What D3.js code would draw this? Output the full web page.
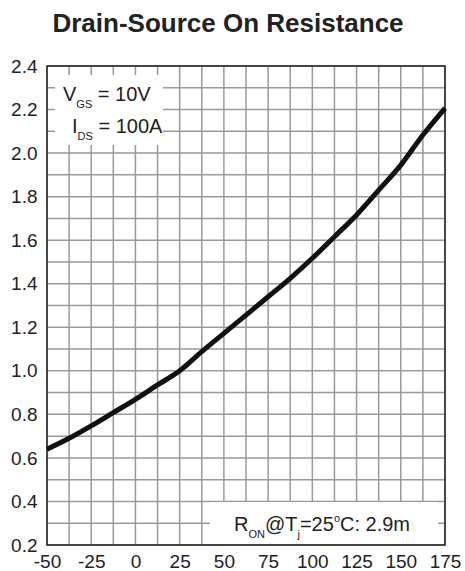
<!DOCTYPE html>
<html><head><meta charset="utf-8">
<script src="https://cdn.jsdelivr.net/npm/d3@7"></script>
<style>body{margin:0;background:#fff}svg{display:block;font-family:"Liberation Sans",Arial,sans-serif}</style>
</head><body><svg id="c" width="465" height="571"></svg>
<script>
const temps = [-50,-37.5,-25,-12.5,0,12.5,25,37.5,50,62.5,75,87.5,100,112.5,125,137.5,150,162.5,175];
const rNorm = [0.64,0.69,0.747,0.808,0.869,0.935,1.0,1.088,1.172,1.256,1.34,1.425,1.517,1.616,1.716,1.83,1.945,2.083,2.206];
const xTickLabels = [-50,-25,0,25,50,75,100,125,150,175];
const yTickLabels = [0.2,0.4,0.6,0.8,1.0,1.2,1.4,1.6,1.8,2.0,2.2,2.4];
const xGrid = d3.range(-50,175.1,12.5);
const yGrid = d3.range(0.2,2.41,0.1);

const svg = d3.select("#c");
const L=47,R=445,T=66,B=545;
const x = d3.scaleLinear().domain([-50,175]).range([L,R]);
const y = d3.scaleLinear().domain([0.2,2.4]).range([B,T]);

svg.append("text").attr("x",228).attr("y",32).attr("text-anchor","middle")
  .attr("font-size",26).attr("font-weight","bold").attr("fill","#222").text("Drain-Source On Resistance");

const g = svg.append("g");
g.selectAll(".vg").data(xGrid).join("line").attr("x1",d=>x(d)).attr("x2",d=>x(d)).attr("y1",T).attr("y2",B)
  .attr("stroke","#999").attr("stroke-width",1.5);
g.selectAll(".hg").data(yGrid).join("line").attr("y1",d=>y(d)).attr("y2",d=>y(d)).attr("x1",L).attr("x2",R)
  .attr("stroke","#999").attr("stroke-width",1.5);

// annotation boxes (white backgrounds)
g.append("rect").attr("x",55).attr("y",75).attr("width",108).attr("height",70).attr("fill","#fff");
g.append("rect").attr("x",210).attr("y",502).attr("width",228).attr("height",42).attr("fill","#fff");

// frame
g.append("rect").attr("x",L).attr("y",T).attr("width",R-L).attr("height",B-T).attr("fill","none")
  .attr("stroke","#222").attr("stroke-width",1.5);

// axes labels
const xAxis = d3.axisBottom(x).tickValues(xTickLabels).tickSize(0).tickPadding(9.5).tickFormat(d=>String(d));
const ax = svg.append("g").attr("transform",`translate(0,${B})`).call(xAxis);
ax.select(".domain").remove();
ax.selectAll("text").attr("font-size",19).attr("fill","#222").attr("font-family","Liberation Sans, Arial, sans-serif");
const yAxis = d3.axisLeft(y).tickValues(yTickLabels).tickSize(0).tickPadding(9.5).tickFormat(d=>d.toFixed(1));
const ay = svg.append("g").attr("transform",`translate(${L},0)`).call(yAxis);
ay.select(".domain").remove();
ay.selectAll("text").attr("font-size",19).attr("fill","#222").attr("font-family","Liberation Sans, Arial, sans-serif");

// curve
const line = d3.line().x((d,i)=>x(temps[i])).y(d=>y(d)).curve(d3.curveMonotoneX);
svg.append("path").datum(rNorm).attr("d",line).attr("fill","none").attr("stroke","#111").attr("stroke-width",5);

// annotations
function addText(xp,yp,parts){
  const t = svg.append("text").attr("x",xp).attr("y",yp).attr("font-size",20).attr("fill","#222");
  parts.forEach(p=>{
    const s = t.append("tspan").text(p.t);
    if(p.sub){s.attr("font-size",11).attr("dy",7);}
    if(p.sup){s.attr("font-size",11).attr("dy",-9);}
    if(p.back){s.attr("dy",p.back);}
  });
}
addText(63,101,[{t:"V"},{t:"GS",sub:true},{t:" = 10V",back:-7}]);
addText(72,133,[{t:"I"},{t:"DS",sub:true},{t:" = 100A",back:-7}]);
addText(234,531,[{t:"R"},{t:"ON",sub:true},{t:"@T",back:-7},{t:"j",sub:true},{t:"=25",back:-7},{t:"o",sup:true},{t:"C: 2.9m",back:9}]);
</script></body></html>
